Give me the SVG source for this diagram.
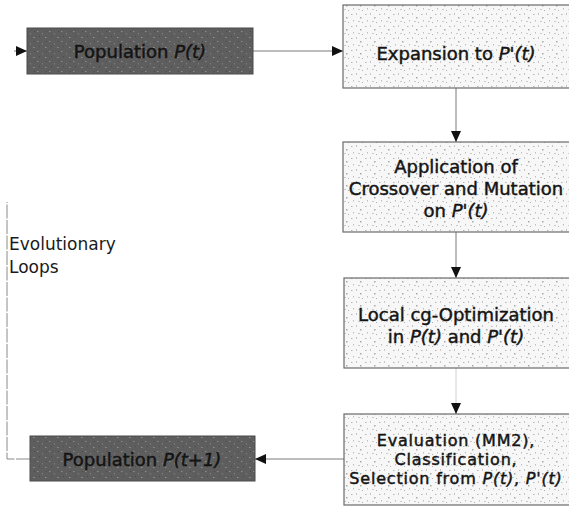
<svg xmlns="http://www.w3.org/2000/svg" width="569" height="506" viewBox="0 0 569 506">
<style>
.lbl{font-family:"DejaVu Sans","Liberation Sans",sans-serif;font-size:18px;fill:#141414;stroke:#141414;stroke-width:0.45;text-anchor:middle}
.sm{font-size:16px;letter-spacing:0.8px}
.side{font-family:"DejaVu Sans","Liberation Sans",sans-serif;font-size:17px;fill:#1a1a1a}
.it{font-style:italic}
.dark{fill:url(#darkTex);stroke:#4a4a4a;stroke-width:1}
.light{fill:url(#lightTex);stroke:#6a6a6a;stroke-width:1.2}
.conn{fill:none;stroke:#7a7a7a;stroke-width:1}
.loop{fill:none;stroke:#8a8a8a;stroke-width:1;stroke-dasharray:14 1.5}
.faint{fill:none;stroke:#c4c4c4;stroke-width:0.8}
</style>
<defs>
<pattern id="lightTex" width="14" height="12" patternUnits="userSpaceOnUse">
<rect width="14" height="12" fill="#f7f7f7"/>
<rect x="1" y="2" width="1.5" height="1" fill="#b5b5b5"/>
<rect x="6" y="1" width="1" height="2" fill="#c6c6c6"/>
<rect x="10" y="5" width="1.5" height="1.5" fill="#aaaaaa"/>
<rect x="3" y="8" width="1" height="1.5" fill="#bdbdbd"/>
<rect x="8" y="9" width="2" height="1" fill="#c9c9c9"/>
<rect x="12" y="10" width="1" height="1" fill="#b0b0b0"/>
</pattern>
<pattern id="darkTex" width="12" height="10" patternUnits="userSpaceOnUse">
<rect width="12" height="10" fill="#5e5e5e"/>
<rect x="1" y="1" width="1.5" height="1" fill="#8a8a8a"/>
<rect x="6" y="3" width="1" height="1.5" fill="#7c7c7c"/>
<rect x="9" y="7" width="1.5" height="1" fill="#919191"/>
<rect x="3" y="6" width="1" height="1" fill="#484848"/>
<rect x="10" y="1" width="1" height="1" fill="#4a4a4a"/>
</pattern>
<marker id="arr" markerWidth="11" markerHeight="10" refX="11" refY="5" orient="auto" markerUnits="userSpaceOnUse">
<path d="M0,0 L11,5 L0,10 z" fill="#111"/>
</marker>
</defs>

<g id="connectors">
<path class="conn" d="M14,51 L27,51" marker-end="url(#arr)"/>
<path class="conn" d="M253,51 L343,51" marker-end="url(#arr)"/>
<path class="conn" d="M456,88 L456,142" marker-end="url(#arr)"/>
<path class="conn" d="M456,232 L456,278" marker-end="url(#arr)"/>
<path class="faint" d="M456,368 L456,404"/>
<path class="conn" d="M456,403 L456,414" marker-end="url(#arr)"/>
<path class="conn" d="M344,459 L255,459" marker-end="url(#arr)"/>
<path class="loop" d="M30,459 L7,459 L7,202"/>
</g>

<g id="pop_t">
<rect class="dark" x="27" y="28" width="226" height="46"/>
<text class="lbl" x="140" y="58">Population <tspan class="it">P(t)</tspan></text>
</g>

<g id="expansion">
<rect class="light" x="343" y="5" width="230" height="83"/>
<text class="lbl" x="456" y="60">Expansion to <tspan class="it">P'(t)</tspan></text>
</g>

<g id="application">
<rect class="light" x="343" y="142" width="230" height="90"/>
<text class="lbl" x="456" y="173">Application of</text>
<text class="lbl" x="456" y="195">Crossover and Mutation</text>
<text class="lbl" x="456" y="217">on <tspan class="it">P'(t)</tspan></text>
</g>

<g id="local">
<rect class="light" x="344" y="278" width="229" height="90"/>
<text class="lbl" x="456" y="321">Local cg-Optimization</text>
<text class="lbl" x="456" y="343">in <tspan class="it">P(t)</tspan> and <tspan class="it">P'(t)</tspan></text>
</g>

<g id="evaluation">
<rect class="light" x="344" y="414" width="229" height="91"/>
<text class="lbl sm" x="456" y="446">Evaluation (MM2),</text>
<text class="lbl sm" x="456" y="465">Classification,</text>
<text class="lbl sm" x="456" y="484">Selection from <tspan class="it">P(t)</tspan>, <tspan class="it">P'(t)</tspan></text>
</g>

<g id="pop_t1">
<rect class="dark" x="30" y="436" width="225" height="45"/>
<text class="lbl" x="142" y="466">Population <tspan class="it">P(t+1)</tspan></text>
</g>

<g id="loop_label">
<text class="side" x="9" y="250">Evolutionary</text>
<text class="side" x="9" y="273">Loops</text>
</g>
</svg>
